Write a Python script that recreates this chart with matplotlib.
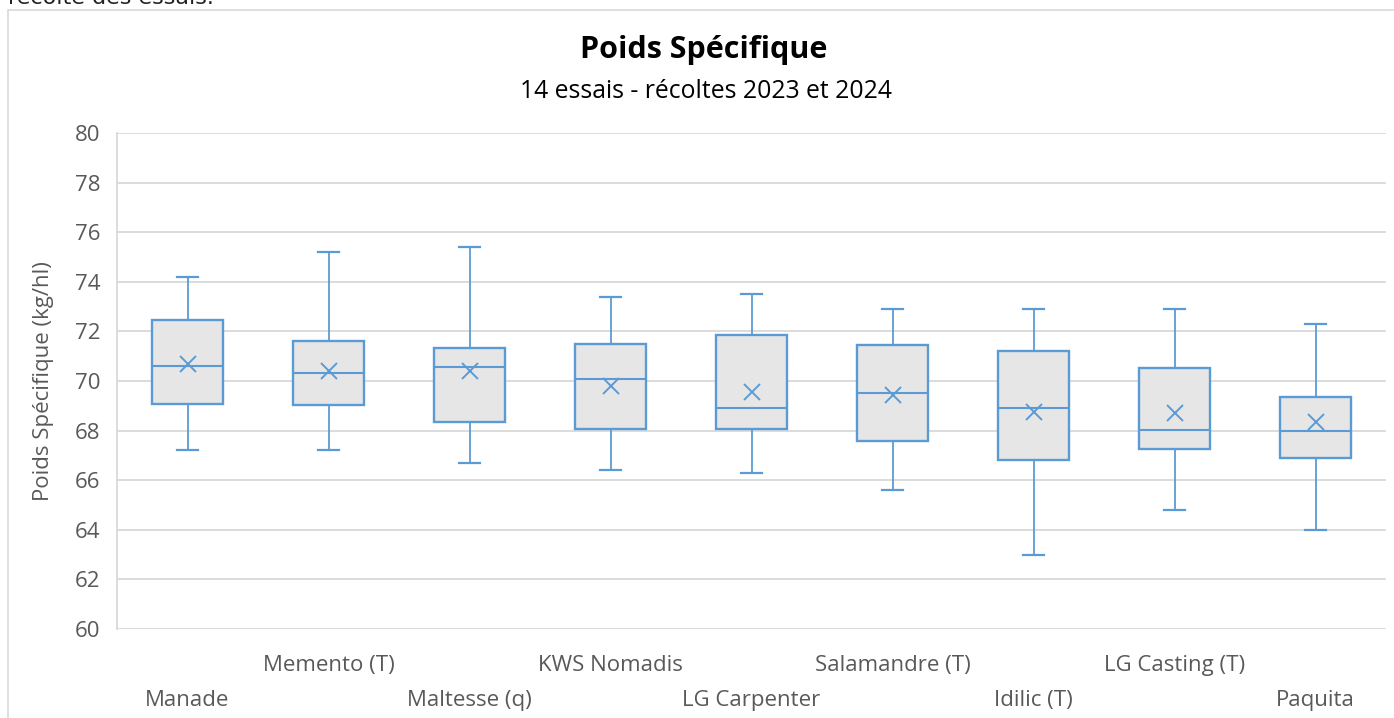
import matplotlib
matplotlib.use('Agg')
import matplotlib.pyplot as plt
from matplotlib.patches import Rectangle

plt.rcParams['font.family'] = ['Open Sans', 'DejaVu Sans']

# valeurs (kg/hl)
varietes = ['Manade', 'Memento (T)', 'Maltesse (q)', 'KWS Nomadis', 'LG Carpenter',
            'Salamandre (T)', 'Idilic (T)', 'LG Casting (T)', 'Paquita']
mini = [67.2, 67.2, 66.7, 66.4, 66.3, 65.6, 63.0, 64.8, 64.0]
q1 = [69.07, 69.03, 68.35, 68.08, 68.08, 67.6, 66.83, 67.26, 66.88]
mediane = [70.6, 70.32, 70.56, 70.1, 68.9, 69.5, 68.92, 68.01, 68.0]
q3 = [72.46, 71.6, 71.33, 71.5, 71.85, 71.47, 71.2, 70.54, 69.37]
maxi = [74.2, 75.2, 75.4, 73.4, 73.5, 72.9, 72.9, 72.9, 72.3]
moyenne = [70.7, 70.4, 70.4, 69.8, 69.55, 69.45, 68.75, 68.7, 68.33]

bleu = '#5B9BD5'
gris = '#D9D9D9'
texte = '#595959'

W, H = 1394, 718
fig = plt.figure(figsize=(W / 100, H / 100), dpi=100)

# cadre du graphique (coupe a droite et en bas)
fig.patches.append(Rectangle((8 / W, -0.05), 1.1, 1 - 10 / H + 0.05, transform=fig.transFigure,
                             fill=False, edgecolor=gris, linewidth=1.2))
# texte du document coupe en haut
fig.text(8 / W, 1 - 4 / H, 'récolte des essais.', fontsize=16, color='#222222',
         family='DejaVu Sans', ha='left', va='baseline')

ax = fig.add_axes([117 / W, (H - 629) / H, (1386 - 117) / W, (629 - 133) / H])

stats = []
for i in range(len(varietes)):
    stats.append({'label': varietes[i], 'whislo': mini[i], 'q1': q1[i], 'med': mediane[i],
                  'q3': q3[i], 'whishi': maxi[i], 'mean': moyenne[i], 'fliers': []})

ax.bxp(stats, positions=range(len(varietes)), widths=0.5, capwidths=0.145,
       showmeans=True, patch_artist=True,
       boxprops=dict(facecolor='#E6E6E6', edgecolor=bleu, linewidth=1.7),
       medianprops=dict(color=bleu, linewidth=1.5),
       whiskerprops=dict(color=bleu, linewidth=1.3),
       capprops=dict(color=bleu, linewidth=1.6),
       meanprops=dict(marker='x', markeredgecolor=bleu, markersize=12, markeredgewidth=1.4))

ax.set_xlim(-0.5, len(varietes) - 0.5)
ax.set_ylim(60, 80)
ax.set_yticks(range(60, 81, 2))
ax.yaxis.grid(True, color=gris, linewidth=1.3)
ax.set_axisbelow(True)
for s in ['top', 'right', 'bottom']:
    ax.spines[s].set_visible(False)
ax.spines['left'].set_color(gris)
ax.spines['left'].set_linewidth(1.3)

ax.set_xticks(range(len(varietes)))
ax.set_xticklabels(varietes)
ax.tick_params(axis='both', length=0, labelsize=16, labelcolor=texte)
ax.tick_params(axis='y', pad=12)
for i, t in enumerate(ax.xaxis.get_major_ticks()):
    t.set_pad(19 if i % 2 else 44)

ax.set_ylabel('Poids Spécifique (kg/hl)', fontsize=16, color=texte, labelpad=15)

fig.text(704 / W, 1 - 58 / H, 'Poids Spécifique', fontsize=22, fontweight='bold',
         ha='center', va='baseline', color='#000000')
fig.text(706 / W, 1 - 98 / H, '14 essais - récoltes 2023 et 2024', fontsize=17.8,
         ha='center', va='baseline', color='#000000')

fig.savefig('out.png', dpi=100)
